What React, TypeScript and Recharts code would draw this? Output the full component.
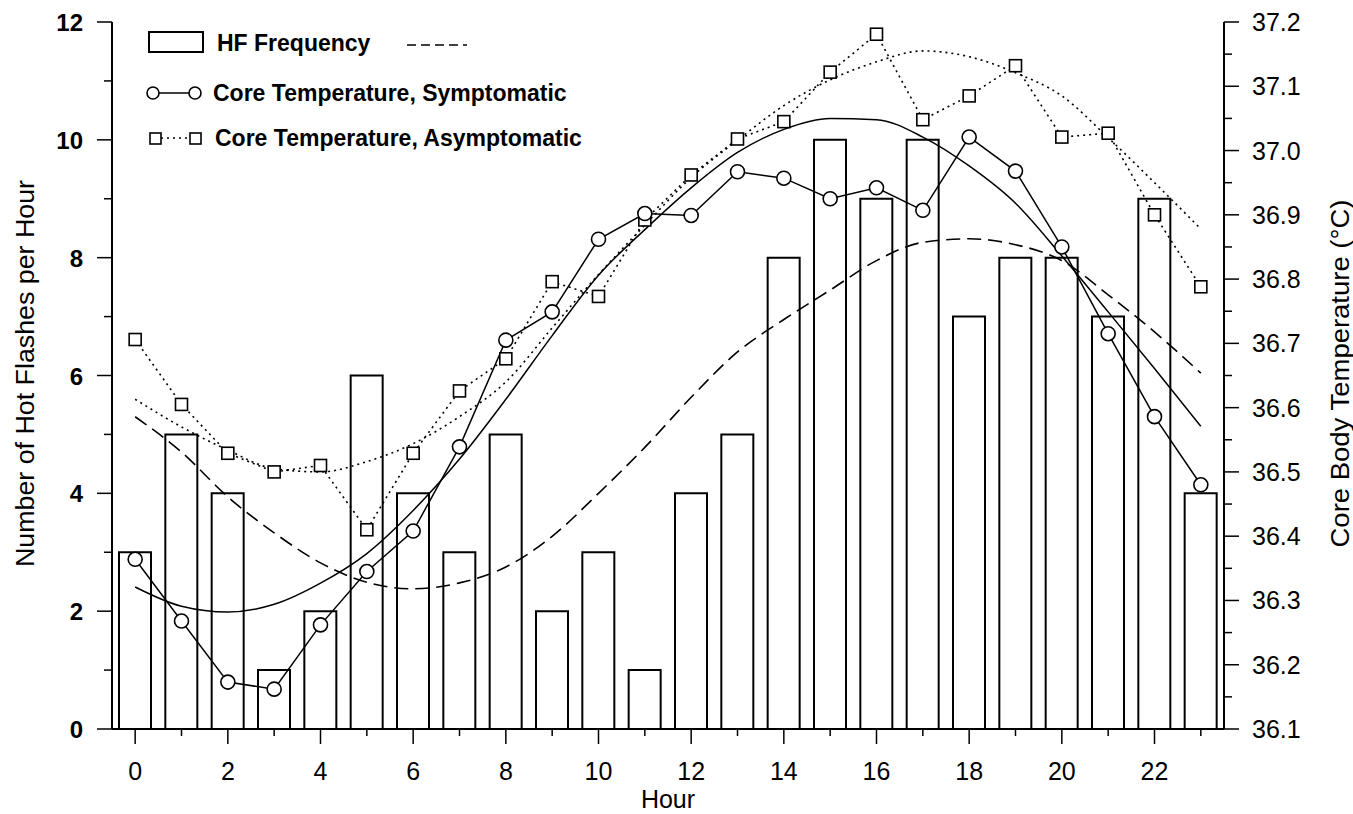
import {
  ComposedChart,
  Bar,
  Line,
  XAxis,
  YAxis,
  Legend,
} from 'recharts'

const hours = [0, 1, 2, 3, 4, 5, 6, 7, 8, 9, 10, 11, 12, 13, 14, 15, 16, 17, 18, 19, 20, 21, 22, 23]
const hfFrequency = [3, 5, 4, 1, 2, 6, 4, 3, 5, 2, 3, 1, 4, 5, 8, 10, 9, 10, 7, 8, 8, 7, 9, 4]
const hfFit = [5.3, 4.7, 3.94, 3.33, 2.82, 2.49, 2.38, 2.48, 2.75, 3.27, 4.0, 4.78, 5.63, 6.4, 6.95, 7.45, 7.95, 8.26, 8.32, 8.22, 7.95, 7.37, 6.74, 6.04]
const coreSymptomatic = [36.364, 36.268, 36.173, 36.162, 36.262, 36.345, 36.408, 36.539, 36.705, 36.749, 36.862, 36.902, 36.899, 36.967, 36.957, 36.925, 36.942, 36.907, 37.021, 36.968, 36.85, 36.715, 36.586, 36.48]
const coreSymptomaticFit = [36.321, 36.291, 36.282, 36.294, 36.327, 36.373, 36.44, 36.52, 36.613, 36.712, 36.806, 36.877, 36.942, 36.997, 37.033, 37.05, 37.048, 37.021, 36.976, 36.918, 36.836, 36.749, 36.661, 36.571]
const coreAsymptomatic = [36.706, 36.605, 36.529, 36.5, 36.51, 36.41, 36.529, 36.626, 36.676, 36.796, 36.773, 36.892, 36.962, 37.018, 37.045, 37.122, 37.181, 37.048, 37.085, 37.132, 37.021, 37.027, 36.9, 36.788]
const coreAsymptomaticFit = [36.613, 36.57, 36.534, 36.505, 36.5, 36.516, 36.544, 36.586, 36.64, 36.724, 36.807, 36.884, 36.958, 37.016, 37.07, 37.11, 37.138, 37.155, 37.146, 37.121, 37.085, 37.02, 36.95, 36.878]

const hourTicks = hours
const hfTicks = [0, 1, 2, 3, 4, 5, 6, 7, 8, 9, 10, 11, 12]
const tempTicks = [
  36.1, 36.15, 36.2, 36.25, 36.3, 36.35, 36.4, 36.45, 36.5, 36.55, 36.6, 36.65,
  36.7, 36.75, 36.8, 36.85, 36.9, 36.95, 37.0, 37.05, 37.1, 37.15, 37.2,
]

const data = hours.map((hour, i) => ({
  hour,
  hf: hfFrequency[i],
  hfFit: hfFit[i],
  sym: coreSymptomatic[i],
  symFit: coreSymptomaticFit[i],
  asym: coreAsymptomatic[i],
  asymFit: coreAsymptomaticFit[i],
}))

const FONT = '"Liberation Sans", Arial, Helvetica, sans-serif'

const HourTick = ({ x, y, payload }: any) => {
  const major = payload.value % 2 === 0
  return (
    <g>
      <line x1={x} x2={x} y1={y} y2={y + (major ? 15 : 7)} stroke="#000" strokeWidth={1.5} />
      {major && (
        <text x={x} y={y + 51} textAnchor="middle" fontSize={25} fontFamily={FONT} fill="#000">
          {payload.value}
        </text>
      )}
    </g>
  )
}

const HfTick = ({ x, y, payload }: any) => {
  const major = payload.value % 2 === 0
  return (
    <g>
      <line x1={x - (major ? 15 : 8)} x2={x} y1={y} y2={y} stroke="#000" strokeWidth={1.5} />
      {major && (
        <text x={x - 29} y={y + 9} textAnchor="end" fontSize={24} fontWeight="bold" fontFamily={FONT} fill="#000">
          {payload.value}
        </text>
      )}
    </g>
  )
}

const TempTick = ({ x, y, payload }: any) => {
  const major = Math.round(payload.value * 100) % 10 === 0
  return (
    <g>
      <line x1={x} x2={x + (major ? 15 : 8)} y1={y} y2={y} stroke="#000" strokeWidth={1.5} />
      {major && (
        <text x={x + 28} y={y + 9} textAnchor="start" fontSize={25} fontFamily={FONT} fill="#000">
          {payload.value.toFixed(1)}
        </text>
      )}
    </g>
  )
}

const leftTitle = ({ viewBox }: any) => {
  const cx = viewBox.x + 25
  const cy = viewBox.y + viewBox.height / 2 - 2
  return (
    <text
      x={cx}
      y={cy}
      transform={`rotate(-90 ${cx} ${cy})`}
      textAnchor="middle"
      dominantBaseline="central"
      fontSize={25}
      fontFamily={FONT}
      textLength={387}
      lengthAdjust="spacingAndGlyphs"
      fill="#000"
    >
      Number of Hot Flashes per Hour
    </text>
  )
}

const rightTitle = ({ viewBox }: any) => {
  const cx = viewBox.x + 116
  const cy = viewBox.y + viewBox.height / 2 - 2
  return (
    <text
      x={cx}
      y={cy}
      transform={`rotate(-90 ${cx} ${cy})`}
      textAnchor="middle"
      dominantBaseline="central"
      fontSize={25}
      fontFamily={FONT}
      textLength={348}
      lengthAdjust="spacingAndGlyphs"
      fill="#000"
    >
      Core Body Temperature (°C)
    </text>
  )
}

const hourTitle = ({ viewBox }: any) => (
  <text
    x={viewBox.x + viewBox.width / 2}
    y={viewBox.y + 79}
    textAnchor="middle"
    fontSize={25}
    fontFamily={FONT}
    fill="#000"
  >
    Hour
  </text>
)

const SquareDot = (props: any) => {
  const { cx, cy, index } = props
  return (
    <rect
      key={`sq-${index}`}
      x={cx - 6}
      y={cy - 6}
      width={12}
      height={12}
      fill="#fff"
      stroke="#000"
      strokeWidth={1.6}
    />
  )
}

// legend sits inside the plot, top-left, like the original figure
const renderLegend = () => {
  const textStyle = { fontSize: 23, fontWeight: 'bold' as const, fontFamily: FONT }
  return (
    <svg width={620} height={170}>
      <rect x={149} y={32} width={54} height={20} fill="#fff" stroke="#000" strokeWidth={2} />
      <text x={217} y={51} {...textStyle}>HF Frequency</text>
      <line x1={407} x2={467} y1={45} y2={45} stroke="#000" strokeWidth={1.5} strokeDasharray="9 5" />

      <line x1={153} x2={195} y1={93} y2={93} stroke="#000" strokeWidth={1.5} />
      <circle cx={153} cy={93} r={6} fill="#fff" stroke="#000" strokeWidth={1.6} />
      <circle cx={195} cy={93} r={6} fill="#fff" stroke="#000" strokeWidth={1.6} />
      <text x={213} y={101} {...textStyle}>Core Temperature, Symptomatic</text>

      <line x1={155} x2={195} y1={138} y2={138} stroke="#000" strokeWidth={1.5} strokeDasharray="2 4" />
      <rect x={150} y={133} width={11} height={11} fill="#fff" stroke="#000" strokeWidth={1.6} />
      <rect x={190} y={133} width={11} height={11} fill="#fff" stroke="#000" strokeWidth={1.6} />
      <text x={215} y={146} {...textStyle}>Core Temperature, Asymptomatic</text>
    </svg>
  )
}

export default function App() {
  return (
    <div style={{ position: 'absolute', left: 0, top: 0, background: '#fff' }}>
      <ComposedChart
        width={1353}
        height={814}
        data={data}
        margin={{ top: 22, right: 0, bottom: 0, left: 0 }}
      >
        <XAxis
          dataKey="hour"
          type="number"
          domain={[-0.5, 23.5]}
          ticks={hourTicks}
          interval={0}
          height={85}
          tickSize={0}
          tickMargin={0}
          tick={<HourTick />}
          axisLine={{ stroke: '#000', strokeWidth: 2 }}
          tickLine={false}
          label={{ content: hourTitle }}
        />
        <YAxis
          yAxisId="hf"
          orientation="left"
          domain={[0, 12]}
          ticks={hfTicks}
          interval={0}
          width={112}
          tickSize={0}
          tickMargin={0}
          tick={<HfTick />}
          axisLine={{ stroke: '#000', strokeWidth: 2 }}
          tickLine={false}
          label={{ content: leftTitle }}
        />
        <YAxis
          yAxisId="temp"
          orientation="right"
          domain={[36.1, 37.2]}
          ticks={tempTicks}
          interval={0}
          width={129}
          tickSize={0}
          tickMargin={0}
          tick={<TempTick />}
          axisLine={{ stroke: '#000', strokeWidth: 2 }}
          tickLine={false}
          label={{ content: rightTitle }}
        />
        <Legend
          content={renderLegend}
          layout="vertical"
          verticalAlign="middle"
          align="center"
          wrapperStyle={{ left: 0, top: 0, width: 620, height: 170 }}
        />
        <Bar
          yAxisId="hf"
          dataKey="hf"
          barSize={32}
          fill="#fff"
          stroke="#000"
          strokeWidth={2}
          isAnimationActive={false}
        />
        <Line
          yAxisId="hf"
          dataKey="hfFit"
          type="monotone"
          stroke="#000"
          strokeWidth={1.6}
          strokeDasharray="14 7"
          dot={false}
          activeDot={false}
          isAnimationActive={false}
        />
        <Line
          yAxisId="temp"
          dataKey="symFit"
          type="monotone"
          stroke="#000"
          strokeWidth={1.5}
          dot={false}
          activeDot={false}
          isAnimationActive={false}
        />
        <Line
          yAxisId="temp"
          dataKey="asymFit"
          type="monotone"
          stroke="#000"
          strokeWidth={1.6}
          strokeDasharray="2 4"
          dot={false}
          activeDot={false}
          isAnimationActive={false}
        />
        <Line
          yAxisId="temp"
          dataKey="asym"
          type="linear"
          stroke="#000"
          strokeWidth={1.6}
          strokeDasharray="2 4"
          dot={SquareDot}
          activeDot={false}
          isAnimationActive={false}
        />
        <Line
          yAxisId="temp"
          dataKey="sym"
          type="linear"
          stroke="#000"
          strokeWidth={1.5}
          dot={{ r: 7, fill: '#fff', stroke: '#000', strokeWidth: 1.6 }}
          activeDot={false}
          isAnimationActive={false}
        />
      </ComposedChart>
    </div>
  )
}
